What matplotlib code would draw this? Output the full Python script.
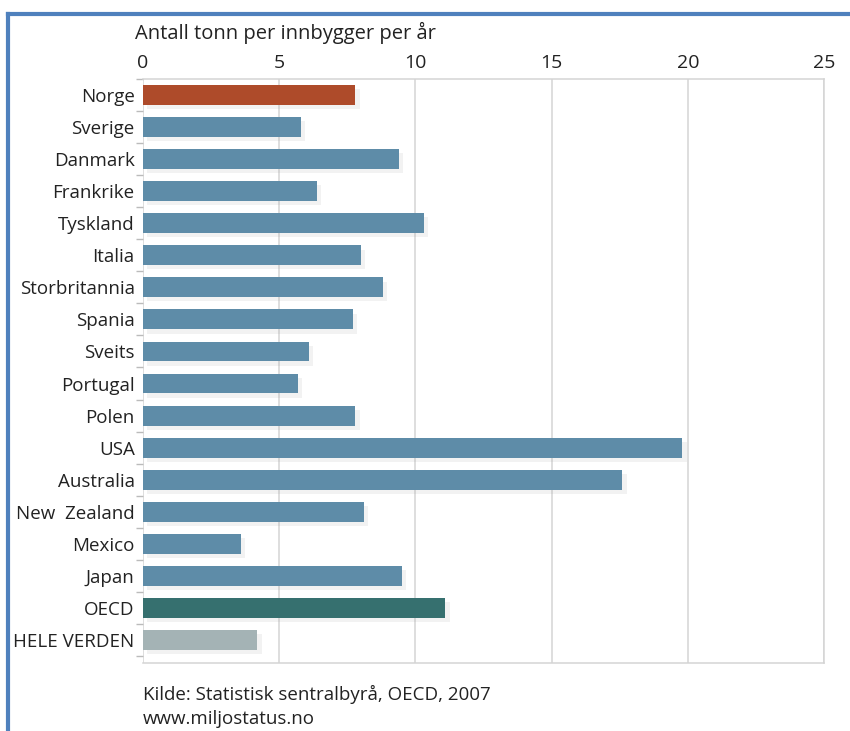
#!/usr/bin/env python3

# CO2-utslipp per innbygger, horisontalt stolpediagram.

import matplotlib.pyplot as plt
import matplotlib.patheffects as pe
from matplotlib.lines import Line2D

countries = ['Norge', 'Sverige', 'Danmark', 'Frankrike', 'Tyskland', 'Italia',
             'Storbritannia', 'Spania', 'Sveits', 'Portugal', 'Polen', 'USA',
             'Australia', 'New  Zealand', 'Mexico', 'Japan', 'OECD', 'HELE VERDEN']
tonnes = [7.8, 5.8, 9.4, 6.4, 10.3, 8.0, 8.8, 7.7, 6.1, 5.7, 7.8, 19.8,
          17.6, 8.1, 3.6, 9.5, 11.1, 4.2]
xticks = [0, 5, 10, 15, 20, 25]

plt.rcParams['font.family'] = ['Open Sans', 'DejaVu Sans']

colors = ['#5E8CA8'] * len(countries)
colors[0] = '#AE4B2A'
colors[-2] = '#36706F'
colors[-1] = '#A4B3B5'

fig = plt.figure(figsize=(8.5, 7.31), dpi=100)
ax = fig.add_axes([0.1682, 0.093, 0.8012, 0.7989])

y = list(range(len(countries)))
shadow = [pe.SimplePatchShadow(offset=(3, -3), shadow_rgbFace='#999999', alpha=0.12), pe.Normal()]
bars = ax.barh(y, tonnes, height=0.62, color=colors, zorder=3)
for b in bars:
    b.set_path_effects(shadow)

ax.set_xlim(0, 25)
ax.set_ylim(17.72, -0.40)
ax.set_xticks(xticks)
ax.xaxis.tick_top()
ax.tick_params(axis='x', length=0, pad=5, labelsize=14, labelcolor='#222222')
ax.xaxis.grid(True, color='#d4d4d4', linewidth=1.1, zorder=0)

ax.set_yticks(y)
ax.set_yticklabels(countries)
ax.set_yticks([i + 0.5 for i in range(-1, len(countries))], minor=True)
ax.tick_params(axis='y', which='major', length=0, pad=6, labelsize=13.5, labelcolor='#222222')
ax.tick_params(axis='y', which='minor', length=5, color='#bbbbbb', width=1)

for side in ['top', 'left', 'bottom', 'right']:
    ax.spines[side].set_color('#d4d4d4')
    ax.spines[side].set_linewidth(1.1)
ax.spines['left'].set_visible(False)

fig.text(135 / 850, 1 - 33 / 731, 'Antall tonn per innbygger per år',
         fontsize=14.5, color='#222222', va='center', ha='left')
fig.text(143 / 850, 1 - 694 / 731, 'Kilde: Statistisk sentralbyrå, OECD, 2007',
         fontsize=13.5, color='#222222', va='center', ha='left')
fig.text(143 / 850, 1 - 719 / 731, 'www.miljostatus.no',
         fontsize=13.5, color='#222222', va='center', ha='left')

# Blå ramme oppe og til venstre
frame = '#4F81BD'
fig.add_artist(Line2D([8 / 850, 1], [1 - 14 / 731, 1 - 14 / 731], color=frame, linewidth=3,
                      transform=fig.transFigure))
fig.add_artist(Line2D([8 / 850, 8 / 850], [0, 1 - 14 / 731], color=frame, linewidth=3,
                      transform=fig.transFigure))

plt.savefig('out.png', dpi=100)
